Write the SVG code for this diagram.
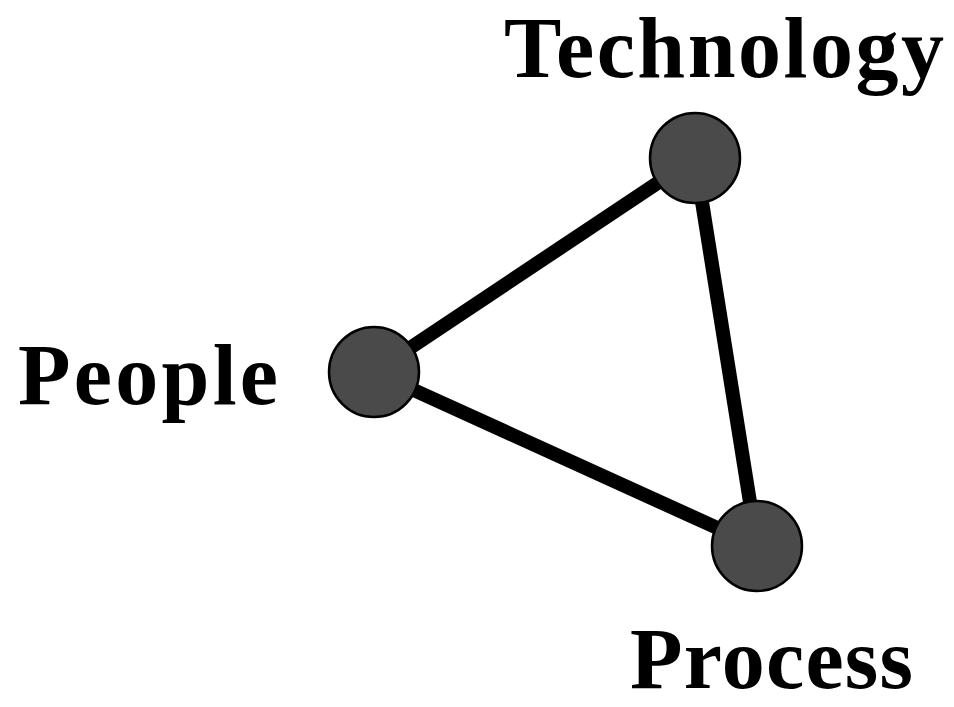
<svg xmlns="http://www.w3.org/2000/svg" width="954" height="707" viewBox="0 0 954 707">
<style>
.lbl{font-family:"Liberation Serif","Times New Roman",serif;font-weight:bold;font-size:86px;fill:#000}
.node{fill:#4a4a4a;stroke:#000;stroke-width:2.5}
.edge{stroke:#000;stroke-width:14;fill:none}
</style>
<rect width="954" height="707" fill="#fff"/>
<g id="connectors">
<line class="edge" x1="695" y1="158" x2="374" y2="372"/>
<line class="edge" x1="695" y1="158" x2="757" y2="546"/>
<line class="edge" x1="374" y1="372" x2="757" y2="546"/>
</g>
<g id="technology">
<circle class="node" cx="695" cy="158" r="45"/>
<text class="lbl" x="504" y="77" textLength="440" lengthAdjust="spacing">Technology</text>
</g>
<g id="people">
<circle class="node" cx="374" cy="372" r="45"/>
<text class="lbl" x="18" y="404" textLength="260" lengthAdjust="spacing">People</text>
</g>
<g id="process">
<circle class="node" cx="757" cy="546" r="45"/>
<text class="lbl" x="630" y="688" textLength="283" lengthAdjust="spacing">Process</text>
</g>
</svg>
